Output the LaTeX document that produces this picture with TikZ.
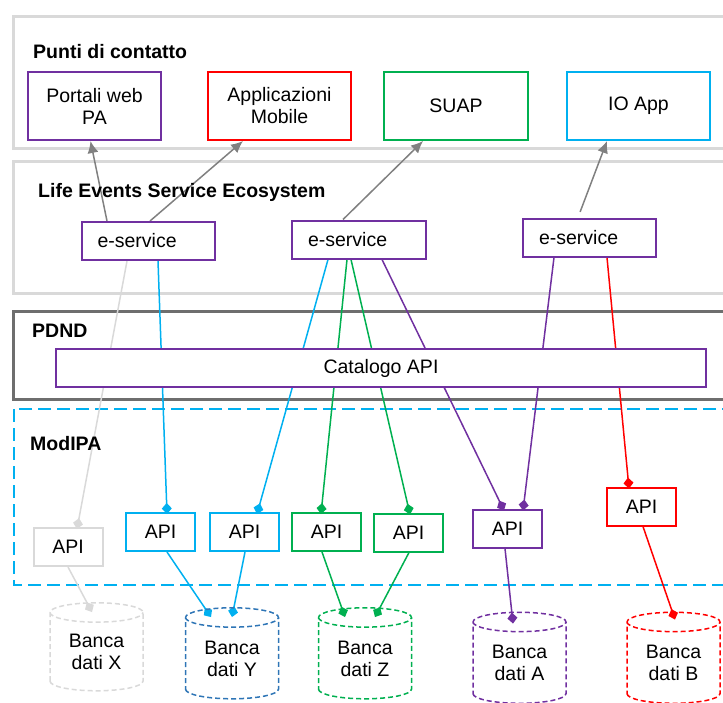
\documentclass[tikz,border=0pt]{standalone}
\usepackage{fontspec}
\setmainfont{Liberation Sans}
\usetikzlibrary{shapes.geometric, arrows.meta, backgrounds}
\definecolor{cpurple}{HTML}{7030A0}
\definecolor{cred}{HTML}{FF0000}
\definecolor{cgreen}{HTML}{00B050}
\definecolor{ccyan}{HTML}{00B0F0}
\definecolor{clgray}{HTML}{D9D9D9}
\definecolor{cdgray}{HTML}{6E6E6E}
\definecolor{carrow}{HTML}{808080}
\definecolor{cblue}{HTML}{2E75B6}

\begin{document}
\begin{tikzpicture}[x=1pt, y=-1pt,
  every node/.style={font=\fontsize{19.5}{22}\selectfont, align=center, inner sep=0pt},
  lbl/.style={font=\fontsize{19.5}{22}\selectfont\bfseries, anchor=west},
  box/.style={draw=#1, line width=2pt, minimum width=140pt, minimum height=68pt},
  svc/.style={draw=cpurple, line width=2pt, text width=101pt, inner xsep=16pt, align=left, minimum height=38pt},
  api/.style={draw=#1, line width=2pt, minimum width=69pt, minimum height=38pt},
  db/.style={cylinder, shape border rotate=90, aspect=0.35, draw=#1, line width=1.5pt, dash pattern=on 5pt off 3pt, minimum width=93pt, minimum height=91pt},
  layer/.style={draw=clgray, line width=3pt},
  up/.style={-{Latex[length=12pt,width=11pt]}, carrow, line width=1.5pt},
  link/.style={-{Diamond[length=11pt,width=10pt]}, color=#1, line width=1.5pt}
]
\useasboundingbox (0,0) rectangle (723,702);

\node[lbl] (lpunti) at (33,52) {Punti di contatto};
\node[box=cpurple, minimum width=133pt] (portali) at (94.5,106) {Portali web\\PA};
\node[box=cred, minimum width=143pt] (appmob) at (279.5,106) {Applicazioni\\Mobile};
\node[box=cgreen, minimum width=144pt] (suap) at (456,106) {SUAP};
\node[box=ccyan, minimum width=143pt] (ioapp) at (638.5,106) {IO App};

\node[lbl] (lles) at (38,192) {Life Events Service Ecosystem};
\node[svc] (es1) at (148,241) {e-service};
\node[svc, text width=102pt] (es2) at (359,239.5) {e-service};
\node[svc] (es3) at (589.5,237.5) {e-service};

\node[lbl] (lpdnd) at (32,331) {PDND};
\node[draw=cpurple, line width=2pt, fill=white, minimum width=650pt, minimum height=38pt] (catalogo) at (381,368) {Catalogo API};

\node[lbl] (lmodipa) at (30,444) {ModIPA};
\node[api=clgray] (apix) at (68,547) {API};
\node[api=ccyan] (apiy1) at (160.5,532) {API};
\node[api=ccyan] (apiy2) at (244.5,532) {API};
\node[api=cgreen] (apiz1) at (326.5,532) {API};
\node[api=cgreen] (apiz2) at (408.5,532.5) {API};
\node[api=cpurple] (apia) at (507.5,528.5) {API};
\node[api=cred] (apib) at (641.5,506.5) {API};

\node[db=clgray, minimum height=88pt] (dbx) at (96.5,652) {Banca\\dati X};
\node[db=cblue] (dby) at (232,658.5) {Banca\\dati Y};
\node[db=cgreen] (dbz) at (365,658.5) {Banca\\dati Z};
\node[db=cpurple] (dba) at (519.5,663) {Banca\\dati A};
\node[db=cred] (dbb) at (673.5,663) {Banca\\dati B};

\begin{scope}[on background layer]
\draw[layer] (13,16) rectangle (740,148);
\draw[layer] (13,161) rectangle (740,293);
\draw[layer, draw=cdgray] (13,311) rectangle (740,399);
\draw[ccyan, line width=1.5pt, dash pattern=on 13pt off 6pt] (14,409) rectangle (740,585);

\draw[up] ([xshift=-41pt]es1.north) -- ([xshift=-4pt]portali.south);
\draw[up] ([xshift=2pt]es1.north) -- ([xshift=-36.5pt]appmob.south);
\draw[up] ([xshift=-16pt]es2.north) -- ([xshift=-33pt]suap.south);
\draw[up, shorten <=6pt] ([xshift=-11.5pt]es3.north) -- ([xshift=-31.5pt]ioapp.south);

\draw[link=clgray] ([xshift=-21pt]es1.south) -- ([xshift=9pt,yshift=-2pt]apix.north);
\draw[link=ccyan] ([xshift=10pt]es1.south) -- ([xshift=6.5pt,yshift=-2pt]apiy1.north);
\draw[link=ccyan] ([xshift=-31pt]es2.south) -- ([xshift=12.5pt,yshift=-2pt]apiy2.north);
\draw[link=cgreen] ([xshift=-12pt]es2.south) -- ([xshift=-5.5pt,yshift=-2pt]apiz1.north);
\draw[link=cgreen] ([xshift=-8pt]es2.south) -- ([xshift=1.5pt,yshift=-2pt]apiz2.north);
\draw[link=cpurple] ([xshift=23pt]es2.south) -- ([xshift=-3.5pt,yshift=-2pt]apia.north);
\draw[link=cpurple] ([xshift=-35.5pt]es3.south) -- ([xshift=15.5pt,yshift=-2pt]apia.north);
\draw[link=cred] ([xshift=17.5pt]es3.south) -- ([xshift=-12.5pt,yshift=-2pt]apib.north);

\draw[link=clgray] (apix.south) -- ([xshift=-4.5pt,yshift=-10pt]dbx.north);
\draw[link=ccyan] ([xshift=6.5pt]apiy1.south) -- ([xshift=-21pt,yshift=-10pt]dby.north);
\draw[link=ccyan] ([xshift=0.5pt]apiy2.south) -- ([yshift=-10pt]dby.north);
\draw[link=cgreen] ([xshift=-4.5pt]apiz1.south) -- ([xshift=-20pt,yshift=-10pt]dbz.north);
\draw[link=cgreen] ([xshift=0.5pt]apiz2.south) -- ([xshift=10pt,yshift=-10pt]dbz.north);
\draw[link=cpurple] ([xshift=-2.5pt]apia.south) -- ([xshift=-6.5pt,yshift=-12pt]dba.north);
\draw[link=cred] ([xshift=1.5pt]apib.south) -- ([xshift=1.5pt,yshift=-8pt]dbb.north);
\end{scope}
\end{tikzpicture}
\end{document}
